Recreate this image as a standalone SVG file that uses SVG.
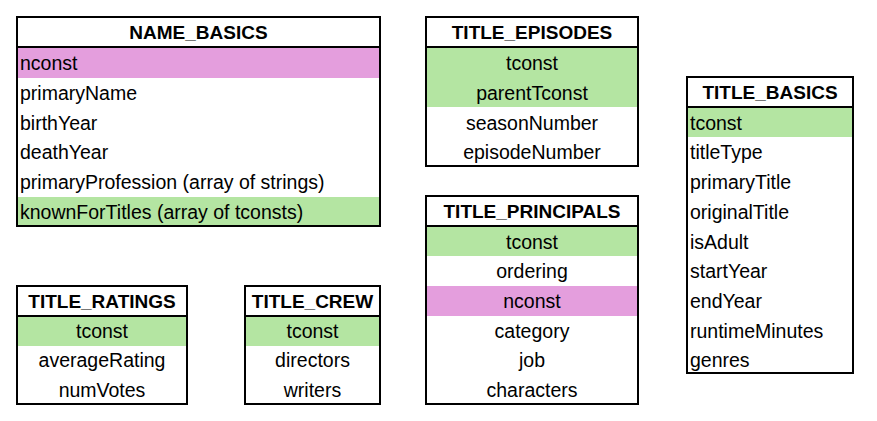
<svg xmlns="http://www.w3.org/2000/svg" width="877" height="421" viewBox="0 0 877 421">
  <style>
    .box { fill: #ffffff; stroke: #000000; stroke-width: 2; }
    .sep { stroke: #000000; stroke-width: 2; }
    .pk { fill: #E49EDD; }
    .fk { fill: #B4E5A2; }
    .hd { font-family: "Liberation Sans", Arial, sans-serif; font-weight: bold; font-size: 19px; fill: #000; text-anchor: middle; }
    .tx { font-family: "Liberation Sans", Arial, sans-serif; font-size: 19.5px; fill: #000; }
    .c { text-anchor: middle; }
  </style>
  <rect width="877" height="421" fill="#ffffff"/>

  <!-- NAME_BASICS -->
  <g id="name_basics">
    <rect class="box" x="17" y="17" width="363" height="209"/>
    <rect class="pk" x="18" y="48" width="361" height="30"/>
    <rect class="fk" x="18" y="197" width="361" height="28"/>
    <line class="sep" x1="17" y1="47" x2="380" y2="47"/>
    <text class="hd" x="198.5" y="39">NAME_BASICS</text>
    <text class="tx" x="20" y="70">nconst</text>
    <text class="tx" x="20" y="100">primaryName</text>
    <text class="tx" x="20" y="130">birthYear</text>
    <text class="tx" x="20" y="159">deathYear</text>
    <text class="tx" x="20" y="189">primaryProfession (array of strings)</text>
    <text class="tx" x="20" y="219">knownForTitles (array of tconsts)</text>
  </g>

  <!-- TITLE_EPISODES -->
  <g id="title_episodes">
    <rect class="box" x="426" y="17" width="212" height="149"/>
    <rect class="fk" x="427" y="48" width="210" height="59"/>
    <line class="sep" x1="426" y1="47" x2="638" y2="47"/>
    <text class="hd" x="532" y="39">TITLE_EPISODES</text>
    <text class="tx c" x="532" y="70">tconst</text>
    <text class="tx c" x="532" y="100">parentTconst</text>
    <text class="tx c" x="532" y="130">seasonNumber</text>
    <text class="tx c" x="532" y="159">episodeNumber</text>
  </g>

  <!-- TITLE_PRINCIPALS -->
  <g id="title_principals">
    <rect class="box" x="426" y="196" width="212" height="208"/>
    <rect class="fk" x="427" y="227" width="210" height="29"/>
    <rect class="pk" x="427" y="286" width="210" height="30"/>
    <line class="sep" x1="426" y1="226" x2="638" y2="226"/>
    <text class="hd" x="532" y="218">TITLE_PRINCIPALS</text>
    <text class="tx c" x="532" y="249">tconst</text>
    <text class="tx c" x="532" y="278">ordering</text>
    <text class="tx c" x="532" y="308">nconst</text>
    <text class="tx c" x="532" y="338">category</text>
    <text class="tx c" x="532" y="367">job</text>
    <text class="tx c" x="532" y="397">characters</text>
  </g>

  <!-- TITLE_BASICS -->
  <g id="title_basics">
    <rect class="box" x="687" y="77" width="166" height="296"/>
    <rect class="fk" x="688" y="108" width="164" height="29"/>
    <line class="sep" x1="687" y1="107" x2="853" y2="107"/>
    <text class="hd" x="770" y="99">TITLE_BASICS</text>
    <text class="tx" x="690" y="130">tconst</text>
    <text class="tx" x="690" y="159">titleType</text>
    <text class="tx" x="690" y="189">primaryTitle</text>
    <text class="tx" x="690" y="219">originalTitle</text>
    <text class="tx" x="690" y="249">isAdult</text>
    <text class="tx" x="690" y="278">startYear</text>
    <text class="tx" x="690" y="308">endYear</text>
    <text class="tx" x="690" y="338">runtimeMinutes</text>
    <text class="tx" x="690" y="367">genres</text>
  </g>

  <!-- TITLE_RATINGS -->
  <g id="title_ratings">
    <rect class="box" x="17" y="286" width="170" height="118"/>
    <rect class="fk" x="18" y="317" width="168" height="29"/>
    <line class="sep" x1="17" y1="316" x2="187" y2="316"/>
    <text class="hd" x="102" y="308">TITLE_RATINGS</text>
    <text class="tx c" x="102" y="338">tconst</text>
    <text class="tx c" x="102" y="367">averageRating</text>
    <text class="tx c" x="102" y="397">numVotes</text>
  </g>

  <!-- TITLE_CREW -->
  <g id="title_crew">
    <rect class="box" x="245" y="286" width="135" height="118"/>
    <rect class="fk" x="246" y="317" width="133" height="29"/>
    <line class="sep" x1="245" y1="316" x2="380" y2="316"/>
    <text class="hd" x="312.5" y="308">TITLE_CREW</text>
    <text class="tx c" x="312.5" y="338">tconst</text>
    <text class="tx c" x="312.5" y="367">directors</text>
    <text class="tx c" x="312.5" y="397">writers</text>
  </g>

  <g id="connectors"/>
</svg>
